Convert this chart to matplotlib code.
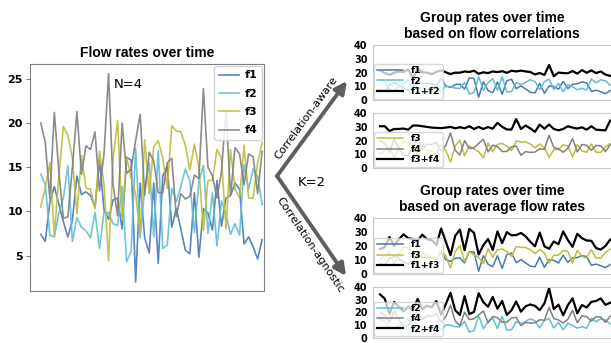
import numpy as np
import matplotlib
matplotlib.use("Agg")
from matplotlib import pyplot as plt

# flow rates (50 time steps)
f1 = [7.4, 6.6, 11.0, 12.8, 10.8, 8.8, 7.1, 9.0, 14.0, 11.9,
      12.2, 11.8, 10.5, 15.8, 10.2, 9.1, 11.3, 11.5, 8.0, 16.1,
      15.8, 2.0, 13.2, 7.0, 5.3, 13.2, 4.1, 14.0, 15.1, 8.2,
      10.3, 8.0, 5.6, 5.2, 12.1, 4.8, 10.3, 9.8, 7.9, 13.5,
      8.3, 11.5, 11.8, 13.2, 12.5, 6.3, 7.1, 6.0, 4.6, 6.8]
f2 = [14.2, 13.0, 7.3, 7.1, 9.8, 11.5, 15.2, 6.6, 9.3, 8.2,
      7.8, 7.0, 9.9, 5.8, 10.0, 9.8, 8.6, 8.4, 12.8, 4.3,
      5.5, 17.1, 7.0, 12.6, 15.5, 7.1, 16.9, 5.8, 6.2, 12.6,
      11.1, 12.8, 14.8, 13.4, 7.6, 13.4, 15.2, 7.5, 12.1, 6.1,
      11.2, 9.6, 7.4, 8.6, 7.3, 15.3, 12.5, 14.8, 13.9, 10.8]
f3 = [10.5, 12.7, 15.5, 7.3, 14.0, 19.6, 18.6, 16.0, 9.7, 16.3,
      12.6, 12.5, 10.3, 16.8, 13.0, 4.4, 16.0, 20.3, 9.0, 16.2,
      13.7, 12.0, 7.5, 18.1, 12.0, 17.3, 18.0, 16.0, 12.6, 19.7,
      19.1, 19.0, 17.5, 14.7, 17.6, 15.0, 7.8, 13.5, 13.5, 17.0,
      16.0, 8.0, 17.0, 12.5, 11.5, 17.5, 11.5, 11.5, 15.5, 17.8]
f4 = [20.0, 17.8, 11.5, 21.2, 14.5, 9.2, 9.4, 15.0, 21.3, 14.2,
      17.4, 17.0, 19.0, 12.3, 16.5, 25.6, 13.0, 9.5, 20.0, 14.3,
      14.8, 18.0, 21.0, 11.8, 16.7, 15.7, 12.1, 12.1, 15.5, 16.0,
      9.4, 12.0, 11.4, 11.7, 14.1, 13.7, 23.9, 15.0, 14.0, 11.5,
      14.5, 21.5, 11.8, 17.2, 16.5, 13.0, 16.5, 16.2, 12.0, 16.8]

names = ["f1", "f2", "f3", "f4"]
colors = {"f1": "#4a78b4", "f2": "#5fbfd6", "f3": "#bdbd3a", "f4": "#808080"}
flows = {"f1": np.array(f1), "f2": np.array(f2), "f3": np.array(f3), "f4": np.array(f4)}
t = np.arange(len(f1))

# groups: (axes rect, pair)
groups = [([0.6105, 0.7085, 0.395, 0.160], ("f1", "f2")),
          ([0.6105, 0.5100, 0.395, 0.160], ("f3", "f4")),
          ([0.6105, 0.2010, 0.395, 0.163], ("f1", "f3")),
          ([0.6105, 0.0160, 0.395, 0.147], ("f2", "f4"))]

fig = plt.figure(figsize=(6.11, 3.43), dpi=100)

# left panel
ax = fig.add_axes([0.049, 0.152, 0.383, 0.662])
for n in names:
    ax.plot(t, flows[n], color=colors[n], lw=1.2, alpha=0.9, label=n)
ax.set_xlim(-2.4, 49.4)
ax.set_ylim(1.0, 26.7)
ax.set_yticks([5, 10, 15, 20, 25])
ax.set_xticks([])
for lab in ax.get_yticklabels():
    lab.set_fontweight("bold")
ax.tick_params(axis="y", labelsize=8, length=3, color="#808080", pad=2)
for s in ax.spines.values():
    s.set_color("#808080")
ax.set_title("Flow rates over time", fontsize=10, fontweight="bold",
             family="Liberation Sans", pad=5)
ax.text(0.42, 0.91, "N=4", transform=ax.transAxes, fontsize=9.5,
        ha="center", va="center")
leg = ax.legend(loc="upper right", fontsize=8, handlelength=1.8,
                borderpad=0.4, labelspacing=0.75, framealpha=0.85,
                borderaxespad=0.2, handletextpad=0.5)
for txt in leg.get_texts():
    txt.set_fontweight("bold")

# right panels
for rect, pair in groups:
    a = fig.add_axes(rect)
    a.plot(t, flows[pair[0]], color=colors[pair[0]], lw=1.1, label=pair[0])
    a.plot(t, flows[pair[1]], color=colors[pair[1]], lw=1.1, label=pair[1])
    a.plot(t, flows[pair[0]] + flows[pair[1]], color="black", lw=1.6,
           label=pair[0] + "+" + pair[1])
    a.set_xlim(-1.5, 49.9)
    a.set_ylim(0, 40)
    a.set_yticks([0, 10, 20, 30, 40])
    a.set_xticks([])
    for lab in a.get_yticklabels():
        lab.set_fontweight("bold")
    a.tick_params(axis="y", labelsize=7, length=0, pad=4)
    for s in a.spines.values():
        s.set_color("#c8c8c8")
    lg = a.legend(loc="lower left", fontsize=6.8, handlelength=2.8,
                  borderpad=0.25, labelspacing=0.15, framealpha=0.75,
                  borderaxespad=0.15, handletextpad=0.8)
    for txt in lg.get_texts():
        txt.set_fontweight("bold")

fig.text(0.805, 0.925, "Group rates over time\nbased on flow correlations",
         ha="center", va="center", fontsize=10, fontweight="bold",
         family="Liberation Sans", linespacing=1.15)
fig.text(0.805, 0.420, "Group rates over time\nbased on average flow rates",
         ha="center", va="center", fontsize=10, fontweight="bold",
         family="Liberation Sans", linespacing=1.15)

# arrows between panels (figure pixels, origin bottom-left)
arrow = dict(arrowstyle="-|>", color="#5e5e5e", lw=2.8, mutation_scale=18,
             shrinkA=0, shrinkB=0)
fig.add_artist(plt.Annotation("", xy=(347, 262), xytext=(277, 167),
                              xycoords="figure pixels", textcoords="figure pixels",
                              arrowprops=arrow))
fig.add_artist(plt.Annotation("", xy=(346, 67), xytext=(277, 167),
                              xycoords="figure pixels", textcoords="figure pixels",
                              arrowprops=arrow))
fig.text(306 / 611, 1 - 118 / 343, "Correlation-aware", rotation=54,
         ha="center", va="center", fontsize=8)
fig.text(310 / 611, 1 - 245 / 343, "Correlation-agnostic", rotation=-56,
         ha="center", va="center", fontsize=8)
fig.text(312 / 611, 1 - 183 / 343, "K=2", ha="center", va="center", fontsize=9.5)

fig.savefig("out.png", dpi=100)
